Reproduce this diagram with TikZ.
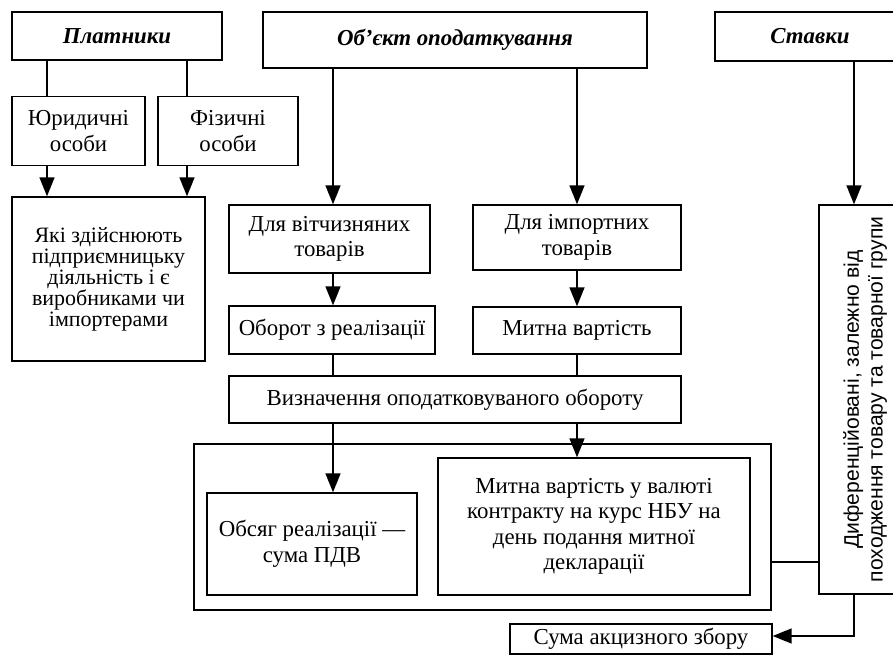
\documentclass[tikz,border=0pt]{standalone}
\usepackage{fontspec}
\setmainfont{Liberation Serif}
\setsansfont{Liberation Sans}
\usetikzlibrary{arrows.meta, positioning}

\begin{document}
\begin{tikzpicture}[
    x=0.02cm, y=-0.02cm,
    box/.style={
      draw,
      line width=0.8pt,
      align=center,
      inner sep=0pt,
      font=\fontsize{13}{14.5}\selectfont
    },
    head/.style={box, font=\fontsize{13}{14.5}\selectfont\bfseries\itshape},
    arr/.style={line width=0.8pt, -{Triangle[length=3.8mm, width=3mm]}},
    link/.style={line width=0.8pt}
  ]
    \useasboundingbox (0,0) rectangle (893,665);
    % headings
    \node[head, minimum width=4.2cm, minimum height=0.96cm] (plat) at (117,36) {Платники};
    \node[head, minimum width=7.68cm, minimum height=1.12cm] (obj) at (455,40) {Об’єкт оподаткування};
    \node[head, minimum width=3.8cm, minimum height=0.98cm] (stav) at (810,36.5) {Ставки};
    % payers
    \node[box, minimum width=2.66cm, minimum height=1.38cm] (yur) at (78.5,131) {Юридичні\\особи};
    \node[box, minimum width=2.8cm, minimum height=1.38cm] (fiz) at (228,131) {Фізичні\\особи};
    \node[box, minimum width=3.86cm, minimum height=3.28cm, font=\fontsize{12.5}{12}\selectfont] (yaki) at (108.5,279)
      {Які здійснюють\\підприємницьку\\діяльність і є\\виробниками чи\\імпортерами};
    % object
    \node[box, minimum width=4.02cm, minimum height=1.36cm] (vitch) at (329.5,239) {Для вітчизняних\\товарів};
    \node[box, minimum width=4.16cm, minimum height=1.3cm] (imp) at (577,237.5) {Для імпортних\\товарів};
    \node[box, minimum width=4.12cm, minimum height=0.96cm] (obor) at (332,330) {Оборот з реалізації};
    \node[box, minimum width=4.16cm, minimum height=0.94cm] (mytna) at (577,330.5) {Митна вартість};
    \node[box, minimum width=9.04cm, minimum height=0.94cm] (vyzn) at (455,399.5) {Визначення оподатковуваного обороту};
    \node[box, minimum width=11.54cm, minimum height=3.32cm] (outer) at (482.5,527) {};
    \node[box, minimum width=4.2cm, minimum height=2.04cm] (obsyag) at (312,544) {Обсяг реалізації —\\сума ПДВ};
    \node[box, minimum width=6.24cm, minimum height=2.74cm] (mval) at (594,526.5)
      {Митна вартість у валюті\\контракту на курс НБУ на\\день подання митної\\декларації};
    \node[box, minimum width=5.24cm, minimum height=0.6cm] (suma) at (641,639) {Сума акцизного збору};
    % rates
    \node[box, minimum width=1.72cm, minimum height=7.78cm] (dyf) at (862,399.5) {};
    \node[rotate=90, align=center, inner sep=0pt, font=\sffamily\fontsize{12}{13.5}\selectfont] (dyftext) at (865,399.5)
      {Диференційовані, залежно від\\походження товару та товарної групи};
    % vertical guides
    \coordinate (cyur) at (47,0);
    \coordinate (cfiz) at (187,0);
    \coordinate (cvit) at (333,0);
    \coordinate (cimp) at (577,0);
    \coordinate (cst) at (854,0);
    \coordinate (csum) at (854,636);
    % connectors
    \draw[link] (plat.south -| cyur) -- (yur.north -| cyur);
    \draw[link] (plat.south -| cfiz) -- (fiz.north -| cfiz);
    \draw[arr] (yur.south -| cyur) -- (yaki.north -| cyur);
    \draw[arr] (fiz.south -| cfiz) -- (yaki.north -| cfiz);
    \draw[arr] (obj.south -| cvit) -- (vitch.north -| cvit);
    \draw[arr] (obj.south -| cimp) -- (imp.north -| cimp);
    \draw[arr] (stav.south -| cst) -- (dyf.north -| cst);
    \draw[arr] (vitch.south -| cvit) -- (obor.north -| cvit);
    \draw[arr] (imp.south -| cimp) -- (mytna.north -| cimp);
    \draw[link] (obor.south -| cvit) -- (vyzn.north -| cvit);
    \draw[link] (mytna.south -| cimp) -- (vyzn.north -| cimp);
    \draw[arr] (vyzn.south -| cvit) -- (obsyag.north -| cvit);
    \draw[arr] (vyzn.south -| cimp) -- (mval.north -| cimp);
    \draw[link] (outer.east |- 0,562) -- (dyf.west |- 0,562);
    \draw[arr] (dyf.south -| cst) -- (csum) -- (suma.east |- csum);
\end{tikzpicture}
\end{document}
